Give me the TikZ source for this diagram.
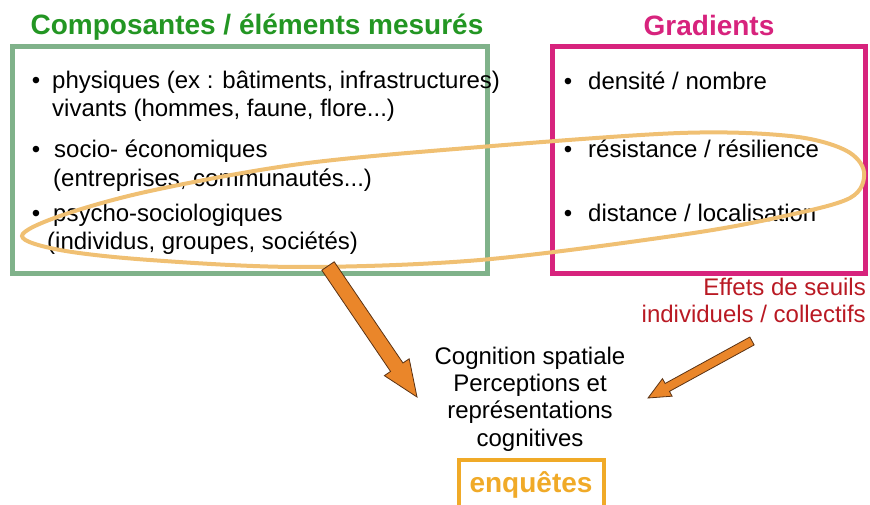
\documentclass[tikz,border=0pt]{standalone}
\usepackage{fontspec}
\setmainfont{Liberation Sans}
\usetikzlibrary{positioning,calc}
\definecolor{compgreen}{RGB}{35,150,35}
\definecolor{boxgreen}{RGB}{128,178,138}
\definecolor{gradpink}{RGB}{215,35,125}
\definecolor{ringorange}{RGB}{240,192,115}
\definecolor{arroworange}{RGB}{234,134,42}
\definecolor{arrowline}{RGB}{90,50,20}
\definecolor{seuilred}{RGB}{185,25,35}
\definecolor{enqgold}{RGB}{240,170,40}

% block arrow from tail to tip: half shaft, half head, head length
\newcommand{\blockarrow}[6][]{%
  \draw[#1] let \p1=($(#3)-(#2)$), \n1={atan2(\y1,\x1)} in
    ($(#2)+(\n1+90:#4)$) -- ($(#3)+(\n1+180:#6)+(\n1+90:#4)$)
    -- ($(#3)+(\n1+180:#6)+(\n1+90:#5)$) -- (#3)
    -- ($(#3)+(\n1+180:#6)+(\n1-90:#5)$) -- ($(#3)+(\n1+180:#6)+(\n1-90:#4)$)
    -- ($(#2)+(\n1-90:#4)$) -- cycle;}

\begin{document}
\begin{tikzpicture}[x=1pt, y=-1pt,
    item/.style={anchor=base west, inner sep=0pt, font=\fontsize{24}{28}\selectfont},
    bul/.style={item, anchor=base},
    title/.style={anchor=base, inner sep=0pt, font=\fontsize{28}{32}\selectfont\bfseries},
    frame/.style={draw, line width=5pt, minimum height=226pt},
    ring/.style={draw=ringorange, line width=4pt},
    bigarrow/.style={fill=arroworange, draw=arrowline, line width=0.8pt, line join=miter}
]
    \useasboundingbox (0,0) rectangle (870,505);

    % the two frames
    \node[frame, draw=boxgreen, minimum width=475pt] (comp) at (249.5,160) {};
    \node[frame, draw=gradpink, minimum width=313pt] (grad) at (708.5,160) {};
    \node[title, text=compgreen] (comptitle) at (257,35) {Composantes / éléments mesurés};
    \node[title, text=gradpink] (gradtitle) at (709,36) {Gradients};

    % measured components
    \node[bul] (b1) at (36,89) {\textbullet};
    \node[item] (phys) at (52,89) {physiques (ex : bâtiments, infrastructures)};
    \node[item] (viv) at (52,117) {vivants (hommes, faune, flore...)};
    \node[bul] (b2) at (36,158) {\textbullet};
    \node[item] (socio) at (54,158) {socio- économiques};
    \node[item] (entr) at (53,187) {(entreprises, communautés...)};
    \node[bul] (b3) at (36,222) {\textbullet};
    \node[item] (psy) at (53,222) {psycho-sociologiques};
    \node[item] (indiv) at (47,250) {(individus, groupes, sociétés)};

    % gradients
    \node[bul] (g1) at (568,90) {\textbullet};
    \node[item] (dens) at (588,90) {densité / nombre};
    \node[bul] (g2) at (568,158) {\textbullet};
    \node[item] (resi) at (588,158) {résistance / résilience};
    \node[bul] (g3) at (568,222) {\textbullet};
    \node[item] (dist) at (588,222) {distance / localisation};

    % grouping ring (hand drawn loop)
    \draw[ring] plot[smooth cycle, tension=0.55] coordinates {
        (22,236) (60,216) (150,191) (300,164) (480,147) (680,133) (790,136)
        (845,150) (864,172) (850,198) (780,217) (680,235) (480,260) (300,267)
        (150,260) (60,250)};

    \node[align=right, anchor=north east, inner sep=0pt, text=seuilred,
          font=\fontsize{24}{27}\selectfont] (seuils) at (866,278) {Effets de seuils\\individuels / collectifs};

    \node[align=center, inner sep=0pt, font=\fontsize{24}{27.3}\selectfont] (cog) at (530,399)
        {Cognition spatiale\\Perceptions et\\représentations\\cognitives};

    \node[draw=enqgold, line width=4pt, text=enqgold, minimum width=145pt, minimum height=50pt,
          font=\fontsize{28}{32}\selectfont\bfseries] (enq) at (531,485) {enquêtes};

    % arrows towards cognition
    \coordinate (a1s) at (328,266);
    \coordinate (a1e) at (417,397);
    \coordinate (a2s) at (752,341);
    \coordinate (a2e) at (648,398);
    \blockarrow[bigarrow]{a1s}{a1e}{7.5pt}{15pt}{36pt}
    \blockarrow[bigarrow]{a2s}{a2e}{4.5pt}{10pt}{22pt}
\end{tikzpicture}
\end{document}
